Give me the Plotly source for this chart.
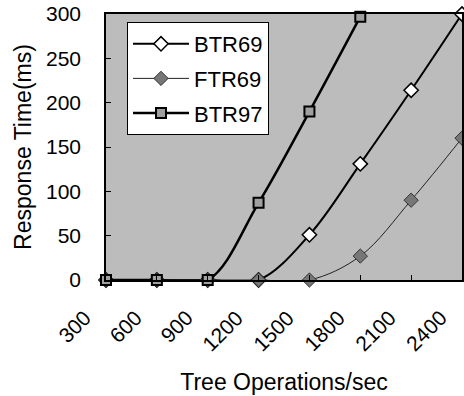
import plotly.graph_objects as go

x_vals = [300, 600, 900, 1200, 1500, 1800, 2100, 2400]
x_labels = ["300", "600", "900", "1200", "1500", "1800", "2100", "2400"]
btr69 = [0, 0, 0, 0, 51, 131, 214, 300]
ftr69 = [0, 0, 0, 0, 0, 27, 90, 160]
btr97 = [0, 0, 0, 87, 190, 297]
btr97_x = x_vals[:6]

y_ticks = [0, 50, 100, 150, 200, 250, 300]
FONT = "Liberation Sans, Arial, sans-serif"

fig = go.Figure()
fig.add_trace(go.Scatter(
    x=x_vals, y=btr69, name="BTR69", legendgroup="a",
    mode="lines+markers", line=dict(color="black", width=2, shape="spline", smoothing=1),
    marker=dict(symbol="diamond", size=11, color="white", line=dict(color="black", width=1.5)),
    cliponaxis=False))
fig.add_trace(go.Scatter(
    x=x_vals, y=ftr69, name="FTR69", legendgroup="b",
    mode="lines+markers", line=dict(color="#222222", width=1, shape="spline", smoothing=1),
    marker=dict(symbol="diamond", size=11, color="#777777", line=dict(color="#333333", width=1)),
    cliponaxis=False))
fig.add_trace(go.Scatter(
    x=btr97_x, y=btr97, name="BTR97", legendgroup="c",
    mode="lines+markers", line=dict(color="black", width=2.5, shape="spline", smoothing=1),
    marker=dict(symbol="square", size=10, color="#a0a0a0", line=dict(color="black", width=2)),
    cliponaxis=False))

# rotated category labels placed under each x tick
for xv, lab in zip(x_vals, x_labels):
    fig.add_annotation(
        x=xv, xref="x", y=0, yref="paper", text=lab, showarrow=False,
        textangle=-45, xanchor="right", yanchor="top", xshift=-8, yshift=-23,
        font=dict(family=FONT, size=21, color="black"))

fig.update_layout(
    width=464, height=396,
    margin=dict(l=106, r=2, t=14, b=116, autoexpand=False),
    paper_bgcolor="white", plot_bgcolor="#bcbcbc",
    font=dict(family=FONT, size=21, color="black"),
    legend=dict(x=0.059, y=0.97, xanchor="left", yanchor="top",
                bgcolor="white", bordercolor="black", borderwidth=1,
                font=dict(size=22), tracegroupgap=3, itemwidth=56),
    showlegend=True,
)
fig.update_xaxes(
    range=[300, 2400], tickvals=x_vals, showticklabels=False,
    ticks="inside", ticklen=5, tickcolor="black",
    showline=True, linecolor="black", linewidth=2, mirror=True,
    showgrid=False, zeroline=False, automargin=False,
    title=dict(text="Tree Operations/sec", font=dict(size=23), standoff=93),
)
fig.update_yaxes(
    range=[0, 300], tickvals=y_ticks, ticks="inside", ticklen=5, tickcolor="black",
    ticklabelstandoff=19, ticklabeloverflow="allow",
    showline=True, linecolor="black", linewidth=1.5, mirror=True,
    showgrid=False, zeroline=False, automargin=False,
    title=dict(text="Response Time(ms)", font=dict(size=23), standoff=8),
)
fig.write_html(
    "out.html",
    config={"displayModeBar": False},
    post_script="document.body.style.margin='0';document.body.style.overflow='hidden';",
)
